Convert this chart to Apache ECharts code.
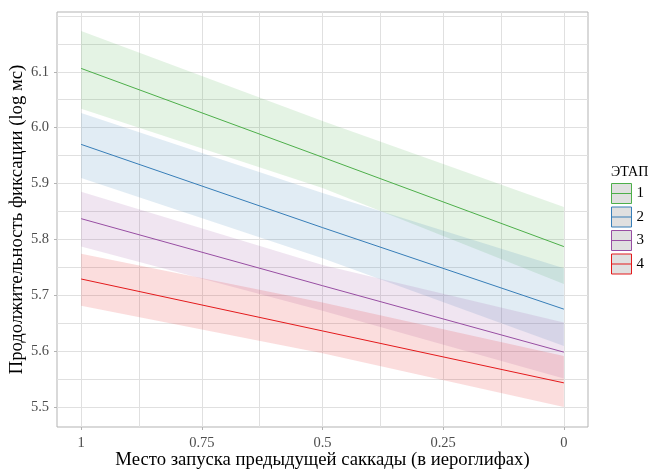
<!DOCTYPE html>
<html>
<head>
<meta charset="utf-8">
<script src="https://cdn.jsdelivr.net/npm/echarts@6/dist/echarts.min.js"></script>
<style>html,body{margin:0;padding:0;background:#fff}#c{width:655px;height:469px}</style>
</head>
<body>
<div id="c"></div>
<script>
// ---- data ----
const xPos = [1, 0.5, 0];
const stages = ['1', '2', '3', '4'];
const fit1 = [6.106, 5.947, 5.787];
const lo1  = [6.034, 5.892, 5.720];
const hi1  = [6.173, 6.012, 5.858];
const fit2 = [5.970, 5.821, 5.675];
const lo2  = [5.910, 5.766, 5.609];
const hi2  = [6.026, 5.883, 5.748];
const fit3 = [5.837, 5.717, 5.598];
const lo3  = [5.787, 5.672, 5.551];
const hi3  = [5.885, 5.754, 5.651];
const fit4 = [5.729, 5.636, 5.543];
const lo4  = [5.681, 5.596, 5.500];
const hi4  = [5.774, 5.687, 5.591];
const xTicks = [1, 0.75, 0.5, 0.25, 0];
const xMinor = [0.875, 0.625, 0.375, 0.125];
const yTicks = [5.5, 5.6, 5.7, 5.8, 5.9, 6.0, 6.1];
const yGrid = [5.5, 5.55, 5.6, 5.65, 5.7, 5.75, 5.8, 5.85, 5.9, 5.95, 6.0, 6.05, 6.1, 6.15, 6.2];

const fits = [fit1, fit2, fit3, fit4];
const los = [lo1, lo2, lo3, lo4];
const his = [hi1, hi2, hi3, hi4];
const colors = ['#4DAF4A', '#377EB8', '#984EA3', '#E41A1C'];
const fills = ['rgba(77,175,74,0.15)', 'rgba(55,126,184,0.15)', 'rgba(152,78,163,0.15)', 'rgba(228,26,28,0.15)'];

const FONT = '"Liberation Serif", "DejaVu Serif", serif';

const series = [];
// grid lines (drawn under everything)
series.push({
  type: 'line', name: 'grid', data: [], silent: true, z: 0,
  markLine: {
    silent: true, z: 0, symbol: ['none', 'none'], animation: false,
    label: {show: false},
    lineStyle: {color: '#e0e0e0', width: 1, type: 'solid'},
    data: yGrid.map(v => ({yAxis: v})).concat(xTicks.concat(xMinor).map(v => ({xAxis: v})))
  }
});
// confidence bands as polygons built through the axis scales
stages.forEach((s, i) => {
  const rows = xPos.map((x, k) => [x, los[i][k], his[i][k]]);
  series.push({
    type: 'custom', name: 'band' + s, silent: true, z: 1, animation: false,
    data: rows,
    encode: {x: 0, y: [1, 2]},
    renderItem: function (params, api) {
      if (params.dataIndex !== 0) return null;
      const upper = rows.map(r => api.coord([r[0], r[2]]));
      const lower = rows.map(r => api.coord([r[0], r[1]])).reverse();
      return {
        type: 'polygon',
        shape: {points: upper.concat(lower)},
        style: {fill: fills[i], stroke: null}
      };
    }
  });
});
// fitted lines
stages.forEach((s, i) => {
  series.push({
    type: 'line', name: s, z: 3, symbol: 'none', animation: false,
    color: colors[i],
    lineStyle: {color: colors[i], width: 1},
    data: xPos.map((x, k) => [x, fits[i][k]])
  });
});

const chart = echarts.init(document.getElementById('c'), null, {renderer: 'canvas'});
chart.setOption({
  animation: false,
  backgroundColor: '#fff',
  title: {
    text: 'ЭТАП', left: 611, top: 165,
    textStyle: {fontFamily: FONT, fontSize: 14, fontWeight: 'normal', color: '#000'}, padding: 0
  },
  legend: {
    orient: 'vertical', left: 611, top: 183, padding: 0,
    itemWidth: 20, itemHeight: 20, itemGap: 2.5,
    selectedMode: false,
    textStyle: {fontFamily: FONT, fontSize: 15, color: '#000'},
    data: stages.map((s, i) => ({
      name: s,
      icon: 'path://M0,0H20V20H0Z M0,10H20',
      itemStyle: {color: '#e0e0e0', borderColor: colors[i], borderWidth: 1}
    }))
  },
  grid: {
    left: 57, right: 67, top: 12, bottom: 42,
    outerBoundsMode: 'none', containLabel: false,
    show: true, borderColor: '#b3b3b3', borderWidth: 1, backgroundColor: '#fff'
  },
  xAxis: {
    type: 'value', min: -0.05, max: 1.05, inverse: true,
    name: 'Место запуска предыдущей саккады (в иероглифах)',
    nameLocation: 'middle', nameGap: 24, nameMoveOverlap: false,
    nameTextStyle: {fontFamily: FONT, fontSize: 18.7, color: '#000'},
    axisLine: {show: false, onZero: false},
    axisTick: {show: true, length: 3, lineStyle: {color: '#b3b3b3'}, customValues: xTicks},
    axisLabel: {customValues: xTicks, fontFamily: FONT, fontSize: 14.5, color: '#4d4d4d', margin: 9},
    splitLine: {show: false}
  },
  yAxis: {
    type: 'value', min: 5.464, max: 6.207,
    name: 'Продолжительность фиксации (log мс)',
    nameLocation: 'middle', nameGap: 30, nameMoveOverlap: false,
    nameTextStyle: {fontFamily: FONT, fontSize: 18.7, color: '#000'},
    axisLine: {show: false, onZero: false},
    axisTick: {show: true, length: 3, lineStyle: {color: '#b3b3b3'}, customValues: yTicks},
    axisLabel: {customValues: yTicks, fontFamily: FONT, fontSize: 14.5, color: '#4d4d4d', margin: 8,
      formatter: v => v.toFixed(1)},
    splitLine: {show: false}
  },
  series: series
});
</script>
</body>
</html>
